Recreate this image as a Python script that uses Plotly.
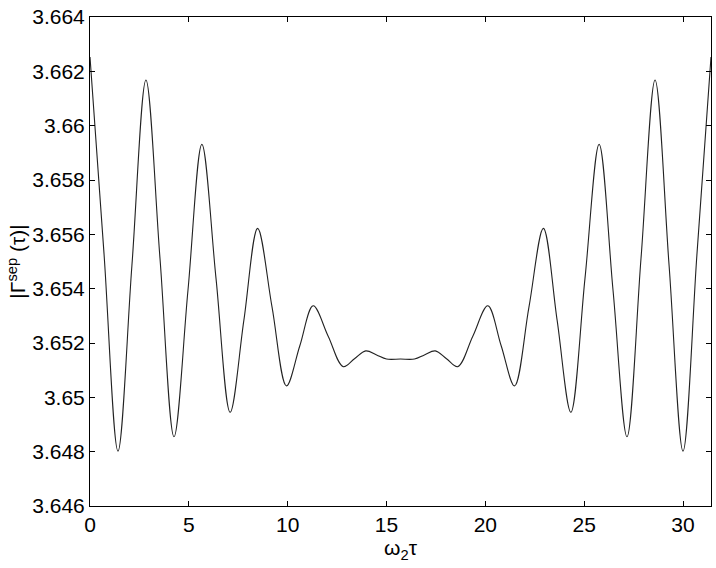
import plotly.graph_objects as go

# Curve samples (extrema plus half-way points)
omega_tau = [
    0.0, 0.71, 1.415, 2.12, 2.83, 3.54, 4.25, 4.955, 5.66, 6.375, 7.09, 7.785,
    8.48, 9.21, 9.94, 10.615, 11.29, 12.05, 12.81, 13.38, 13.95, 14.5, 15.0, 15.708,
    16.416, 16.916, 17.466, 18.036, 18.606, 19.366, 20.126, 20.801, 21.476, 22.206,
    22.936, 23.631, 24.326, 25.041, 25.756, 26.461, 27.166, 27.876, 28.586, 29.296,
    30.001, 30.706, 31.416,
]
gamma_sep = [
    3.66253, 3.65528, 3.64802, 3.65485, 3.66168, 3.65512, 3.64855, 3.65393, 3.65931,
    3.65438, 3.64945, 3.65284, 3.65622, 3.65332, 3.65042, 3.65190, 3.65337, 3.65225,
    3.65113, 3.65142, 3.65171, 3.65156, 3.65141, 3.65141,
    3.65141, 3.65156, 3.65171, 3.65142, 3.65113, 3.65225, 3.65337, 3.65190, 3.65042,
    3.65332, 3.65622, 3.65284, 3.64945, 3.65438, 3.65931, 3.65393, 3.64855, 3.65512,
    3.66168, 3.65485, 3.64802, 3.65528, 3.66253,
]

x_ticks = [0, 5, 10, 15, 20, 25, 30]
y_ticks = [3.646, 3.648, 3.650, 3.652, 3.654, 3.656, 3.658, 3.660, 3.662, 3.664]
y_labels = ["3.646", "3.648", "3.65", "3.652", "3.654", "3.656", "3.658",
            "3.66", "3.662", "3.664"]

FONT = "Liberation Sans, Arial, Helvetica, sans-serif"

fig = go.Figure()
fig.add_trace(go.Scatter(
    x=omega_tau, y=gamma_sep, mode="lines",
    line=dict(color="#222222", width=1.1, shape="spline", smoothing=1.0),
    showlegend=False,
))


def _axis(**kw):
    return dict(
        showline=True, linecolor="black", linewidth=1, mirror="ticks",
        ticks="inside", ticklen=5, tickcolor="black",
        showgrid=False, zeroline=False,
        tickfont=dict(family=FONT, size=21, color="black"),
        **kw,
    )


fig.update_layout(
    width=716, height=568,
    margin=dict(l=90, r=5, t=17, b=62),
    plot_bgcolor="white", paper_bgcolor="white",
    font=dict(family=FONT, color="black"),
    xaxis=_axis(
        range=[0, 31.416], tickvals=x_ticks,
        title=dict(text="ω<sub>2</sub>τ", font=dict(family=FONT, size=21), standoff=4),
    ),
    yaxis=_axis(
        range=[3.646, 3.664], tickvals=y_ticks, ticktext=y_labels,
        title=dict(text="|Γ<sup>sep</sup> (τ)|", font=dict(family=FONT, size=21), standoff=0),
    ),
)

# drop the default 8px page margin so the figure fills the window exactly
fig.write_html(
    "out.html",
    config={"displayModeBar": False},
    post_script="document.body.style.margin='0';document.body.style.overflow='hidden';",
)
